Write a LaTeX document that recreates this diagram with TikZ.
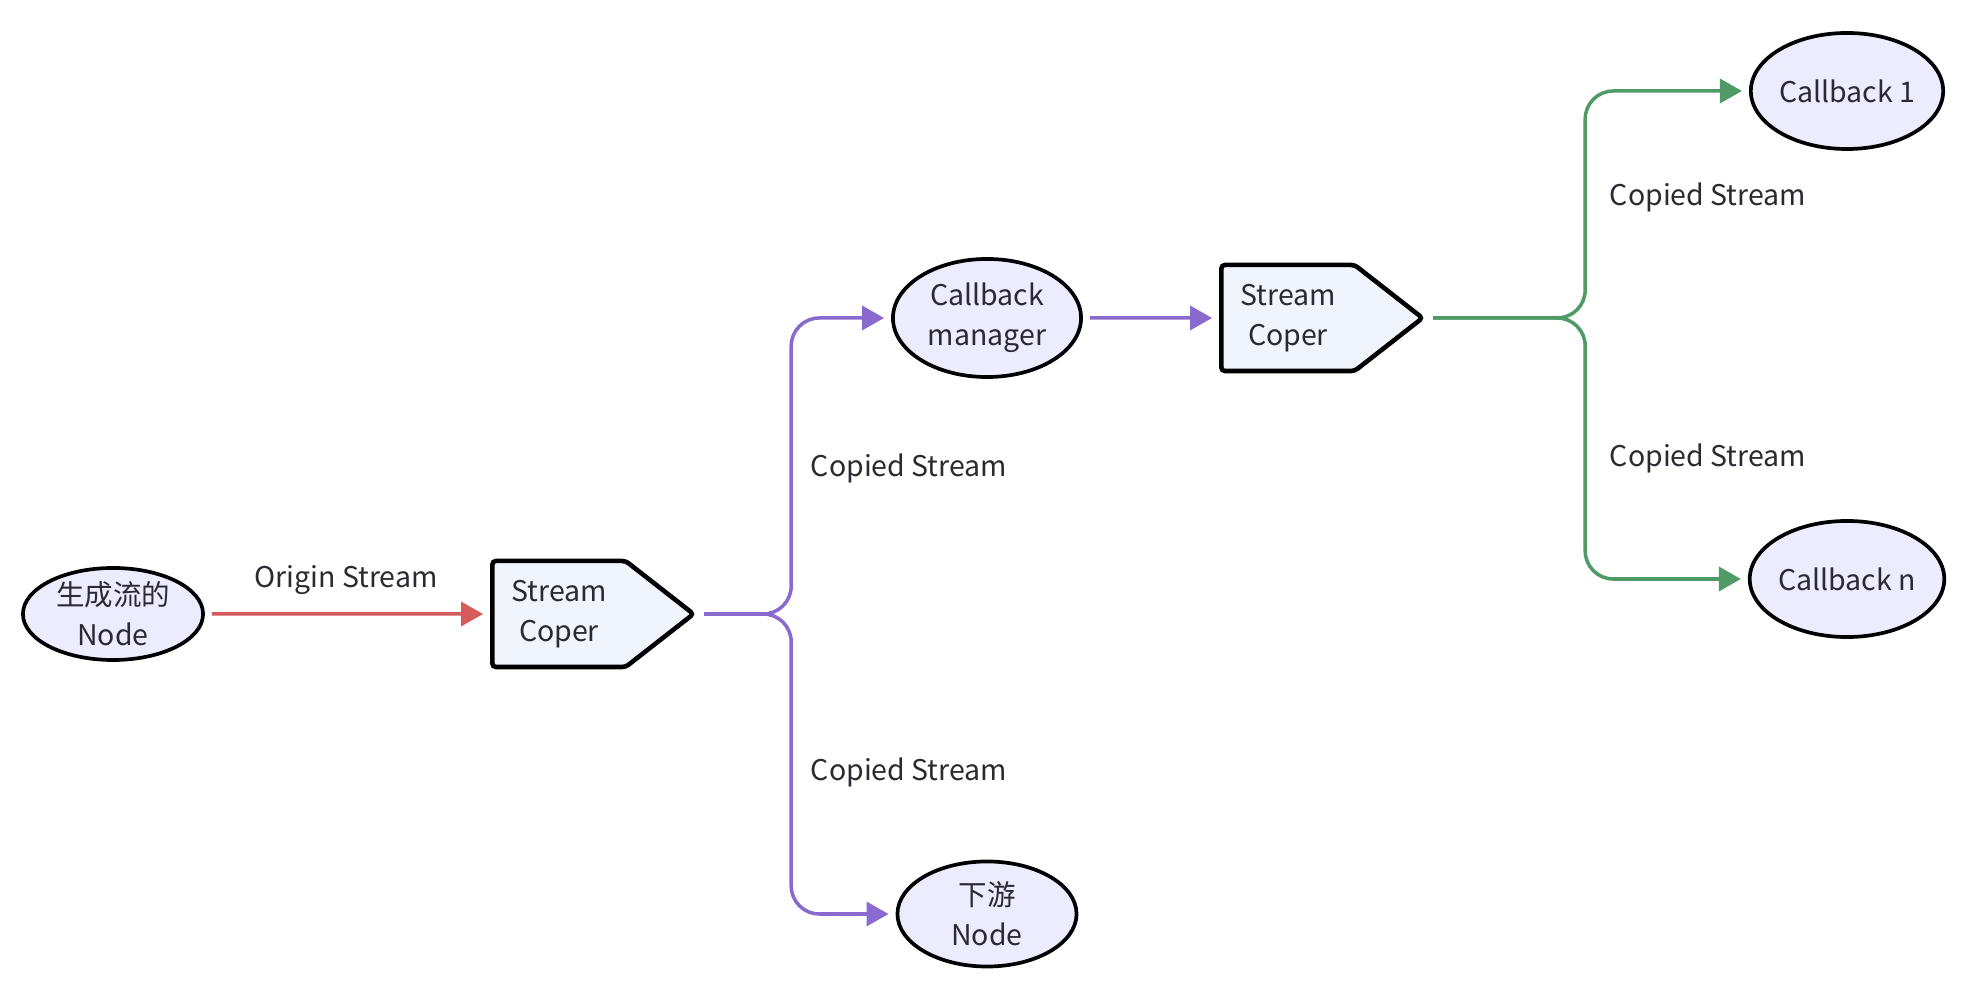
\documentclass[tikz,border=0pt]{standalone}
\usepackage{fontspec}
\setmainfont{Noto Sans CJK SC}
\usetikzlibrary{shapes.geometric,shapes.symbols,arrows.meta}
\definecolor{nodefill}{HTML}{ECECFF}
\definecolor{coperfill}{HTML}{EFF4FD}
\definecolor{redline}{HTML}{D65B5B}
\definecolor{purpleline}{HTML}{8A6ACF}
\definecolor{greenline}{HTML}{4F9A66}
\definecolor{txt}{HTML}{2A2A33}

\begin{document}
\begin{tikzpicture}[x=0.01cm,y=-0.01cm,
  round/.style={ellipse,draw=black,line width=1.05pt,fill=nodefill,inner sep=0pt,
    align=center,text=txt,font=\fontsize{8.1}{11.4}\selectfont},
  coper/.style={signal,signal to=east,signal pointer angle=76,draw=black,
    line width=1.3pt,fill=coperfill,rounded corners=1pt,inner sep=0pt,
    minimum width=2.01cm,minimum height=1.06cm,align=center,text=txt,
    font=\fontsize{8.1}{11.4}\selectfont},
  flow/.style={line width=1pt,rounded corners=0.28cm,
    -{Triangle[length=0.22cm,width=0.24cm]},shorten <=0.07cm,shorten >=0.07cm},
  lbl/.style={text=txt,font=\fontsize{8.1}{11.4}\selectfont}]
\useasboundingbox (0,0) rectangle (1966,989);

% nodes
\node[round,minimum width=1.8cm,minimum height=0.92cm] (src) at (113,614) {生成流的\\Node};
\node[coper] (cop1) at (559,614) {Stream\\Coper};
\node[round,minimum width=1.88cm,minimum height=1.18cm] (cbm) at (987,318) {Callback\\manager};
\node[round,minimum width=1.79cm,minimum height=1.05cm] (down) at (987,914) {下游\\Node};
\node[coper] (cop2) at (1288,318) {Stream\\Coper};
\node[round,minimum width=1.9cm,minimum height=1.16cm] (cb1) at (1847,91) {Callback 1};
\node[round,minimum width=1.9cm,minimum height=1.16cm] (cbn) at (1847,579) {Callback n};

% edges
\draw[flow,redline] (src) -- (cop1);
\draw[flow,purpleline] (cop1.east) -- ++(94,0) |- (cbm);
\draw[flow,purpleline] (cop1.east) -- ++(94,0) |- (down);
\draw[flow,purpleline] (cbm) -- (cop2);
\draw[flow,greenline] (cop2.east) -- ++(159,0) |- (cb1);
\draw[flow,greenline] (cop2.east) -- ++(159,0) |- (cbn);

% labels
\node[lbl] (lorig) at (346,580) {Origin Stream};
\node[lbl] (lup) at (909,468) {Copied Stream};
\node[lbl] (ldown) at (909,772) {Copied Stream};
\node[lbl] (lcb1) at (1708,197) {Copied Stream};
\node[lbl] (lcbn) at (1708,458) {Copied Stream};
\end{tikzpicture}
\end{document}
